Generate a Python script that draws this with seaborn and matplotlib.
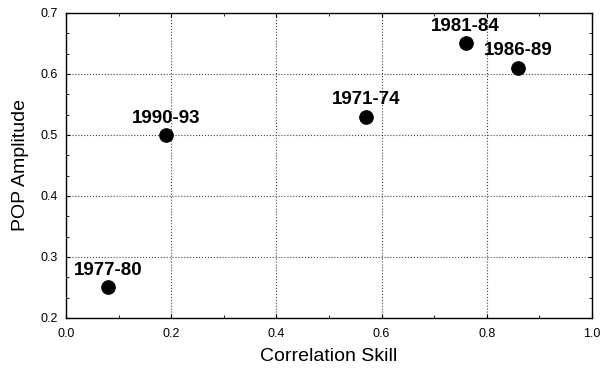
import matplotlib
matplotlib.use("Agg")
import matplotlib.pyplot as plt
import seaborn as sns
import pandas as pd
from matplotlib.ticker import MultipleLocator, AutoMinorLocator

periods = ["1977-80", "1990-93", "1971-74", "1981-84", "1986-89"]
corr_skill = [0.08, 0.19, 0.57, 0.76, 0.86]
pop_amp = [0.25, 0.50, 0.53, 0.65, 0.61]

df = pd.DataFrame({"period": periods, "skill": corr_skill, "amp": pop_amp})

sns.set_style("ticks")
plt.rcParams["font.family"] = ["Liberation Sans", "DejaVu Sans"]
plt.rcParams["text.color"] = "black"
plt.rcParams["axes.labelcolor"] = "black"
plt.rcParams["xtick.color"] = "black"
plt.rcParams["ytick.color"] = "black"

fig = plt.figure(figsize=(6.07, 3.68), dpi=100)
ax = fig.add_axes([0.109, 0.136, 0.866, 0.829])
sns.scatterplot(data=df, x="skill", y="amp", ax=ax, s=95, color="black",
                edgecolor="black", zorder=3, legend=False)
for p, x, y in zip(periods, corr_skill, pop_amp):
    ax.annotate(p, (x, y), xytext=(0, 6), textcoords="offset points",
                ha="center", va="bottom", fontsize=13.5, fontweight="bold",
                color="black")

ax.set_xlim(0, 1.0)
ax.set_ylim(0.2, 0.7)
ax.xaxis.set_major_locator(MultipleLocator(0.2))
ax.yaxis.set_major_locator(MultipleLocator(0.1))
ax.xaxis.set_minor_locator(AutoMinorLocator(2))
ax.yaxis.set_minor_locator(AutoMinorLocator(3))
ax.set_xticklabels([f"{v:.1f}" for v in ax.get_xticks()])
ax.set_yticklabels([f"{v:.1f}" for v in ax.get_yticks()])
ax.grid(True, which="major", linestyle=":", color="#444444", linewidth=0.8)
ax.tick_params(which="both", direction="in", top=True, right=True, labelsize=9)
ax.tick_params(axis="x", which="major", length=3, pad=7)
ax.tick_params(axis="y", which="major", length=3, pad=6)
ax.tick_params(which="minor", length=2)
for s in ax.spines.values():
    s.set_linewidth(1.0)
    s.set_color("black")
ax.set_xlabel("Correlation Skill", fontsize=14, labelpad=6)
ax.set_ylabel("POP Amplitude", fontsize=14, labelpad=8)

fig.savefig("out.png", dpi=100)
